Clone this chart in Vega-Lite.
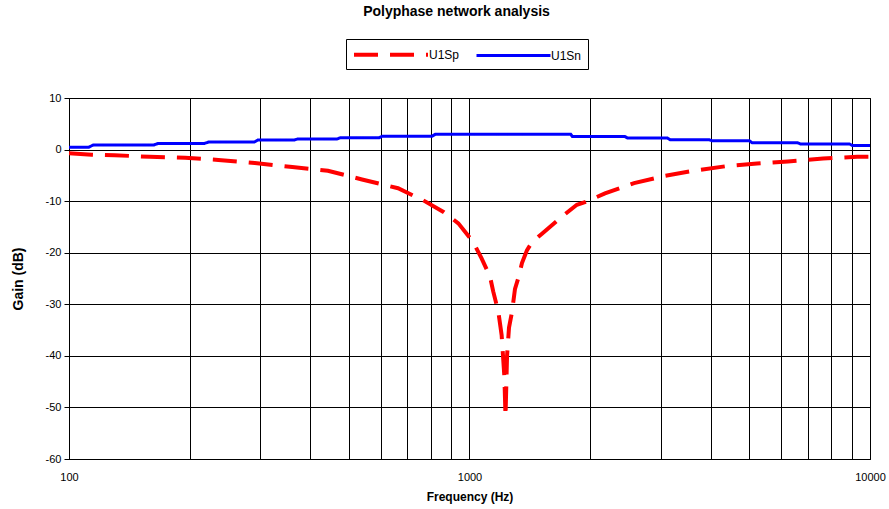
{
  "$schema": "https://vega.github.io/schema/vega-lite/v6.json",
  "width": 801,
  "height": 361,
  "autosize": {"type": "none"},
  "padding": {"left": 69, "top": 98, "right": 19, "bottom": 50},
  "background": "white",
  "title": {
    "text": "Polyphase network analysis",
    "font": "Liberation Sans",
    "fontSize": 14,
    "fontWeight": "bold",
    "color": "black",
    "anchor": "middle",
    "frame": "group",
    "dx": -13,
    "offset": 20
  },
  "config": {
    "view": {"stroke": "black", "strokeWidth": 1},
    "axis": {
      "labelFont": "Liberation Sans",
      "titleFont": "Liberation Sans",
      "labelColor": "black",
      "titleColor": "black",
      "labelFontSize": 11,
      "titleFontSize": 12,
      "titleFontWeight": "bold",
      "gridColor": "black",
      "gridOpacity": 1,
      "gridWidth": 1,
      "domainColor": "black",
      "tickColor": "black"
    }
  },
  "data": {
    "values": [
      {"f": 100, "gain": 0.45, "series": "U1Sn"},
      {"f": 112, "gain": 0.45, "series": "U1Sn"},
      {"f": 115, "gain": 0.9, "series": "U1Sn"},
      {"f": 163, "gain": 0.9, "series": "U1Sn"},
      {"f": 167, "gain": 1.2, "series": "U1Sn"},
      {"f": 218, "gain": 1.2, "series": "U1Sn"},
      {"f": 223, "gain": 1.45, "series": "U1Sn"},
      {"f": 290, "gain": 1.45, "series": "U1Sn"},
      {"f": 296, "gain": 1.85, "series": "U1Sn"},
      {"f": 365, "gain": 1.85, "series": "U1Sn"},
      {"f": 372, "gain": 2.05, "series": "U1Sn"},
      {"f": 467, "gain": 2.05, "series": "U1Sn"},
      {"f": 476, "gain": 2.3, "series": "U1Sn"},
      {"f": 595, "gain": 2.3, "series": "U1Sn"},
      {"f": 606, "gain": 2.6, "series": "U1Sn"},
      {"f": 806, "gain": 2.6, "series": "U1Sn"},
      {"f": 821, "gain": 2.95, "series": "U1Sn"},
      {"f": 1790, "gain": 2.95, "series": "U1Sn"},
      {"f": 1806, "gain": 2.55, "series": "U1Sn"},
      {"f": 2440, "gain": 2.55, "series": "U1Sn"},
      {"f": 2480, "gain": 2.25, "series": "U1Sn"},
      {"f": 3120, "gain": 2.25, "series": "U1Sn"},
      {"f": 3170, "gain": 1.9, "series": "U1Sn"},
      {"f": 3970, "gain": 1.9, "series": "U1Sn"},
      {"f": 4030, "gain": 1.7, "series": "U1Sn"},
      {"f": 5000, "gain": 1.7, "series": "U1Sn"},
      {"f": 5080, "gain": 1.3, "series": "U1Sn"},
      {"f": 6600, "gain": 1.3, "series": "U1Sn"},
      {"f": 6700, "gain": 1.1, "series": "U1Sn"},
      {"f": 8880, "gain": 1.1, "series": "U1Sn"},
      {"f": 9030, "gain": 0.8, "series": "U1Sn"},
      {"f": 10000, "gain": 0.8, "series": "U1Sn"},
      {"f": 100, "gain": -0.7, "series": "U1Sp"},
      {"f": 114, "gain": -1.0, "series": "U1Sp"},
      {"f": 130, "gain": -1.1, "series": "U1Sp"},
      {"f": 159, "gain": -1.4, "series": "U1Sp"},
      {"f": 195, "gain": -1.6, "series": "U1Sp"},
      {"f": 236, "gain": -2.0, "series": "U1Sp"},
      {"f": 291, "gain": -2.6, "series": "U1Sp"},
      {"f": 361, "gain": -3.4, "series": "U1Sp"},
      {"f": 443, "gain": -4.1, "series": "U1Sp"},
      {"f": 539, "gain": -5.8, "series": "U1Sp"},
      {"f": 663, "gain": -7.5, "series": "U1Sp"},
      {"f": 765, "gain": -9.8, "series": "U1Sp"},
      {"f": 861, "gain": -12.1, "series": "U1Sp"},
      {"f": 938, "gain": -14.3, "series": "U1Sp"},
      {"f": 1021, "gain": -17.9, "series": "U1Sp"},
      {"f": 1072, "gain": -21.1, "series": "U1Sp"},
      {"f": 1125, "gain": -24.6, "series": "U1Sp"},
      {"f": 1146, "gain": -27.5, "series": "U1Sp"},
      {"f": 1180, "gain": -31.4, "series": "U1Sp"},
      {"f": 1203, "gain": -36.0, "series": "U1Sp"},
      {"f": 1222, "gain": -44.0, "series": "U1Sp"},
      {"f": 1230, "gain": -51.8, "series": "U1Sp"},
      {"f": 1241, "gain": -40.0, "series": "U1Sp"},
      {"f": 1255, "gain": -34.5, "series": "U1Sp"},
      {"f": 1277, "gain": -31.5, "series": "U1Sp"},
      {"f": 1299, "gain": -27.0, "series": "U1Sp"},
      {"f": 1329, "gain": -24.5, "series": "U1Sp"},
      {"f": 1352, "gain": -22.0, "series": "U1Sp"},
      {"f": 1392, "gain": -19.5, "series": "U1Sp"},
      {"f": 1432, "gain": -18.0, "series": "U1Sp"},
      {"f": 1517, "gain": -16.3, "series": "U1Sp"},
      {"f": 1683, "gain": -13.3, "series": "U1Sp"},
      {"f": 1854, "gain": -10.7, "series": "U1Sp"},
      {"f": 1942, "gain": -10.2, "series": "U1Sp"},
      {"f": 2179, "gain": -8.5, "series": "U1Sp"},
      {"f": 2576, "gain": -6.5, "series": "U1Sp"},
      {"f": 3077, "gain": -5.1, "series": "U1Sp"},
      {"f": 3631, "gain": -4.1, "series": "U1Sp"},
      {"f": 4395, "gain": -3.2, "series": "U1Sp"},
      {"f": 5224, "gain": -2.7, "series": "U1Sp"},
      {"f": 6237, "gain": -2.3, "series": "U1Sp"},
      {"f": 7635, "gain": -1.75, "series": "U1Sp"},
      {"f": 9290, "gain": -1.4, "series": "U1Sp"},
      {"f": 10000, "gain": -1.4, "series": "U1Sp"}
    ]
  },
  "mark": {"type": "line", "clip": true},
  "encoding": {
    "x": {
      "field": "f",
      "type": "quantitative",
      "scale": {"type": "log", "domain": [100, 10000], "nice": false},
      "axis": {
        "title": "Frequency (Hz)",
        "titleFontSize": 12,
        "values": [100, 200, 300, 400, 500, 600, 700, 800, 900, 1000, 2000, 3000, 4000, 5000, 6000, 7000, 8000, 9000, 10000],
        "format": "d",
        "labelExpr": "datum.value == 100 || datum.value == 1000 || datum.value == 10000 ? datum.label : ''",
        "labelFlush": false,
        "ticks": false,
        "labelPadding": 12,
        "titlePadding": 9,
        "domain": true,
        "grid": true
      }
    },
    "y": {
      "field": "gain",
      "type": "quantitative",
      "scale": {"domain": [-60, 10], "nice": false},
      "axis": {
        "title": "Gain (dB)",
        "titleFontSize": 14,
        "values": [-60, -50, -40, -30, -20, -10, 0, 10],
        "labelExpr": "'' + datum.value",
        "tickSize": 5,
        "labelPadding": 3,
        "titlePadding": 20,
        "grid": true
      }
    },
    "order": {"field": "f", "type": "quantitative"},
    "color": {
      "field": "series",
      "type": "nominal",
      "scale": {"domain": ["U1Sp", "U1Sn"], "range": ["#ff0000", "#0000ff"]},
      "legend": {
        "title": null,
        "orient": "none",
        "legendX": 277,
        "legendY": -59,
        "direction": "horizontal",
        "symbolType": "M-1,0H8.867",
        "symbolSize": 225,
        "symbolStrokeWidth": 4,
        "labelFont": "Liberation Sans",
        "labelFontSize": 12,
        "labelColor": "black",
        "labelOffset": 58,
        "columnPadding": 10,
        "strokeColor": "black",
        "padding": 6,
        "fillColor": "white"
      }
    },
    "strokeDash": {
      "field": "series",
      "type": "nominal",
      "scale": {"domain": ["U1Sp", "U1Sn"], "range": [[24, 12], [1, 0]]}
    },
    "strokeWidth": {
      "field": "series",
      "type": "nominal",
      "scale": {"domain": ["U1Sp", "U1Sn"], "range": [4, 3]},
      "legend": null
    }
  }
}
